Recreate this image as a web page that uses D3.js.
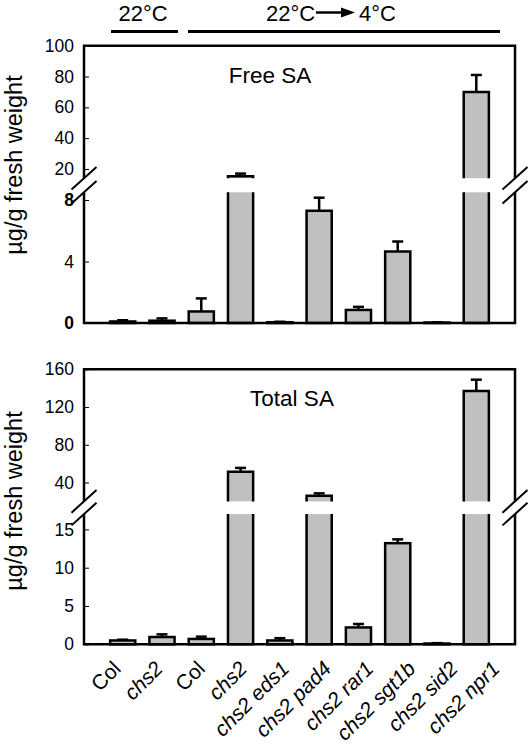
<!DOCTYPE html>
<html>
<head>
<meta charset="utf-8">
<script src="https://cdn.jsdelivr.net/npm/d3@7"></script>
<style>
  html, body { margin: 0; padding: 0; background: #fff; }
  svg { display: block; font-family: "Liberation Sans", Arial, sans-serif; }
</style>
</head>
<body>
<svg id="chart" width="531" height="753"></svg>
<script>
// ---------------- data ----------------
const categories = ["Col", "chs2", "Col", "chs2", "chs2 eds1", "chs2 pad4", "chs2 rar1", "chs2 sgt1b", "chs2 sid2", "chs2 npr1"];
const italicLabel = [false, true, false, true, true, true, true, true, true, true];
const freeSA      = [0.1, 0.15, 0.75, 15.2, 0.05, 7.3, 0.85, 4.65, 0.03, 70];
const freeSAErr   = [0.08, 0.15, 0.85, 1.8, 0.03, 0.85, 0.2, 0.65, 0.02, 11];
const totalSA     = [0.5, 0.95, 0.7, 51.5, 0.5, 26, 2.2, 13.2, 0.1, 137];
const totalSAErr  = [0.1, 0.35, 0.3, 4, 0.3, 2.5, 0.45, 0.5, 0.05, 12];
const freeLowerTicks  = [0, 4, 8];
const freeUpperTicks  = [20, 40, 60, 80, 100];
const totalLowerTicks = [0, 5, 10, 15];
const totalUpperTicks = [40, 80, 120, 160];
const freeBreak  = [8.5, 14];   // lower segment max, upper segment min
const totalBreak = [17, 20];
const freeMax = 100, totalMax = 160;
const yTitle = "µg/g fresh weight";
const panelTitles = ["Free SA", "Total SA"];

// ---------------- layout ----------------
const svg = d3.select("#chart");
const X0 = 84, X1 = 515;
const FILL = "#c0c0c0";
const SW = 2.5;

const x = d3.scaleBand().domain(d3.range(categories.length))
  .range([X0, X1]).paddingInner(0.36).paddingOuter(0.665);
const xLab = d3.scalePoint().domain(d3.range(categories.length)).range([122, 501]);

// panel definitions
const panels = [
  { values: freeSA, errs: freeSAErr, brk: freeBreak, max: freeMax,
    lowerTicks: freeLowerTicks, upperTicks: freeUpperTicks,
    base: 323, top: 45.7, pxLower: 15.375, gapPx: 14.1, title: panelTitles[0], titleX: 270, titleY: 83,
    boldTicks: [0, 8], ylabY: 165 },
  { values: totalSA, errs: totalSAErr, brk: totalBreak, max: totalMax,
    lowerTicks: totalLowerTicks, upperTicks: totalUpperTicks,
    base: 644.3, top: 369.3, pxLower: 7.66, gapPx: 12.7, title: panelTitles[1], titleX: 292, titleY: 406,
    boldTicks: [], ylabY: 501 }
];

panels.forEach(p => {
  const g = svg.append("g");
  const lowerTopPx = p.base - p.brk[0] * p.pxLower;
  const upperBotPx = lowerTopPx - p.gapPx;
  const yL = d3.scaleLinear().domain([0, p.brk[0]]).range([p.base, lowerTopPx]);
  const yU = d3.scaleLinear().domain([p.brk[1], p.max]).range([upperBotPx, p.top]);
  const yv = v => v <= p.brk[0] ? yL(v) : yU(v);

  // bars
  p.values.forEach((v, i) => {
    const x0 = x(i), x1 = x(i) + x.bandwidth();
    if (v <= p.brk[0]) {
      g.append("rect").attr("x", x0).attr("y", yL(v)).attr("width", x1 - x0)
        .attr("height", Math.max(0, p.base - yL(v)))
        .attr("fill", FILL).attr("stroke", "#000").attr("stroke-width", SW);
    } else {
      // lower piece (open top)
      g.append("rect").attr("x", x0).attr("y", yL(p.brk[0])).attr("width", x1 - x0)
        .attr("height", p.base - yL(p.brk[0])).attr("fill", FILL);
      g.append("path").attr("d", `M${x0},${yL(p.brk[0])}L${x0},${p.base}L${x1},${p.base}L${x1},${yL(p.brk[0])}`)
        .attr("fill", "none").attr("stroke", "#000").attr("stroke-width", SW);
      // upper piece (open bottom)
      g.append("rect").attr("x", x0).attr("y", yU(v)).attr("width", x1 - x0)
        .attr("height", yU(p.brk[1]) - yU(v)).attr("fill", FILL);
      g.append("path").attr("d", `M${x0},${yU(p.brk[1])}L${x0},${yU(v)}L${x1},${yU(v)}L${x1},${yU(p.brk[1])}`)
        .attr("fill", "none").attr("stroke", "#000").attr("stroke-width", SW);
    }
    // error bar (upward)
    const cx = x0 + x.bandwidth() / 2;
    const yTop = yv(v + p.errs[i]);
    g.append("line").attr("x1", cx).attr("x2", cx).attr("y1", yv(v)).attr("y2", yTop)
      .attr("stroke", "#000").attr("stroke-width", SW);
    g.append("line").attr("x1", cx - 5.5).attr("x2", cx + 5.5).attr("y1", yTop).attr("y2", yTop)
      .attr("stroke", "#000").attr("stroke-width", SW);
  });

  // frame: top, bottom, left/right (broken)
  const gapTop = yU(p.brk[1]), gapBot = yL(p.brk[0]);
  const frame = g.append("g").attr("stroke", "#000").attr("stroke-width", SW).attr("fill", "none");
  frame.append("path").attr("d", `M${X0},${gapBot}L${X0},${p.base}L${X1},${p.base}L${X1},${gapBot}`);
  frame.append("path").attr("d", `M${X0},${gapTop}L${X0},${p.top}L${X1},${p.top}L${X1},${gapTop}`);
  // break slashes
  [X0, X1].forEach(bx => {
    [gapTop, gapBot].forEach(by => {
      g.append("line").attr("x1", bx - 12.5).attr("y1", by + 11.3)
        .attr("x2", bx + 12.5).attr("y2", by - 11.3)
        .attr("stroke", "#000").attr("stroke-width", 2);
    });
  });

  // axes (ticks inward)
  const fmtAxis = sel => {
    sel.select(".domain").remove();
    sel.selectAll(".tick line").attr("stroke", "#000").attr("stroke-width", 1);
    sel.selectAll(".tick text").attr("font-size", 17.5).attr("fill", "#000")
      .attr("font-family", "Liberation Sans, Arial, sans-serif")
      .attr("font-weight", d => p.boldTicks.includes(d) ? "bold" : "normal");
  };
  g.append("g").attr("transform", `translate(${X0},0)`)
    .call(d3.axisLeft(yL).tickValues(p.lowerTicks).tickSize(-5).tickPadding(10).tickFormat(d3.format("d")))
    .call(fmtAxis);
  g.append("g").attr("transform", `translate(${X0},0)`)
    .call(d3.axisLeft(yU).tickValues(p.upperTicks).tickSize(-5).tickPadding(10).tickFormat(d3.format("d")))
    .call(fmtAxis);

  // panel title
  g.append("text").attr("x", p.titleX).attr("y", p.titleY).attr("text-anchor", "middle")
    .attr("font-size", 22.5).text(p.title);

  // y axis title
  g.append("text").attr("transform", `translate(22,${p.ylabY}) rotate(-90)`)
    .attr("text-anchor", "middle").attr("font-size", 23.5).text(yTitle);
});

// x labels
svg.append("g").selectAll("text").data(categories).join("text")
  .attr("transform", (d, i) => `translate(${xLab(i)},670) rotate(-45)`)
  .attr("text-anchor", "end")
  .attr("font-size", 21)
  .attr("font-style", (d, i) => italicLabel[i] ? "italic" : "normal")
  .text(d => d);

// header: temperature conditions
const hdr = svg.append("g");
hdr.append("text").attr("x", 143).attr("y", 20.5).attr("text-anchor", "middle")
  .attr("font-size", 22).text("22°C");
hdr.append("line").attr("x1", 111).attr("x2", 178).attr("y1", 31.5).attr("y2", 31.5)
  .attr("stroke", "#000").attr("stroke-width", 3);
hdr.append("text").attr("x", 266).attr("y", 20.5).attr("text-anchor", "start")
  .attr("font-size", 22).text("22°C");
hdr.append("line").attr("x1", 316).attr("x2", 343).attr("y1", 12.5).attr("y2", 12.5)
  .attr("stroke", "#000").attr("stroke-width", 2.5);
hdr.append("path").attr("d", "M341,7.5L355,12.5L341,17.5Z").attr("fill", "#000");
hdr.append("text").attr("x", 396).attr("y", 20.5).attr("text-anchor", "end")
  .attr("font-size", 22).text("4°C");
hdr.append("line").attr("x1", 188).attr("x2", 500).attr("y1", 31.5).attr("y2", 31.5)
  .attr("stroke", "#000").attr("stroke-width", 3);
</script>
</body>
</html>
